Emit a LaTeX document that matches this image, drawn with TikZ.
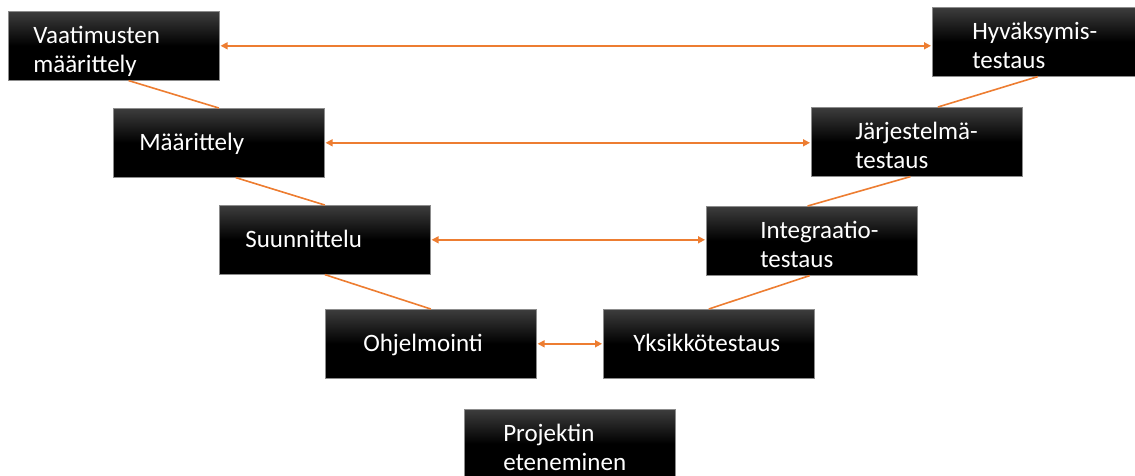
\documentclass[tikz,border=0pt]{standalone}
\usepackage{fontspec}
\setmainfont{Carlito}
\usetikzlibrary{
  arrows.meta,
  positioning,
  calc
}
\hyphenpenalty=10000
\exhyphenpenalty=10000
\definecolor{vmOrange}{HTML}{ED7D31}
\definecolor{vmEdge}{HTML}{8C8C8C}
\tikzset{
  stage/.style={
    draw=vmEdge, line width=0.6pt,
    top color=black!76, bottom color=black, middle color=black,
    minimum height=69pt, inner ysep=1pt, text=white, align=left,
    anchor=north west, font=\fontsize{25}{29}\selectfont,
    text height=29pt, text depth=34pt,
    inner xsep=#1, text width=211pt-2*#1
  },
  stage/.default=26pt,
  oneline/.style={text height=21pt, text depth=5pt},
  vline/.style={line width=1.6pt, vmOrange},
  link/.style={{Triangle[length=7pt,width=7pt]}-{Triangle[length=7pt,width=7pt]},
    line width=1.6pt, vmOrange, shorten <=1pt, shorten >=1pt}
}
\begin{document}
\begin{tikzpicture}[x=1pt, y=-1pt]
  \useasboundingbox (0,0) rectangle (1135,475);
  % left branch
  \node[stage=25pt] (vm) at (8,11) {Vaatimusten\\määrittely};
  \node[stage, oneline] (ma) at (113,108) {Määrittely};
  \node[stage, oneline] (su) at (219,205) {Suunnittelu};
  \node[stage=38pt, oneline] (oh) at (325,309) {Ohjelmointi};
  % right branch
  \node[stage=40pt] (hy) at (932,7) {Hyväksymis-\\testaus};
  \node[stage=44pt] (ja) at (811,107) {Järjestelmä-\\testaus};
  \node[stage=54pt] (in) at (706,206) {Integraatio-\\testaus};
  \node[stage=30pt, oneline] (yk) at (603,309) {Yksikkötestaus};
  \node[stage=39pt] (pr) at (464,409) {Projektin\\eteneminen};
  % V lines
  \foreach \a/\p/\b/\q in {vm/.57/ma/.5, ma/.58/su/.5, su/.5/oh/.5,
                           hy/.5/ja/.6, ja/.47/in/.48, in/.49/yk/.5}
    \draw[vline] ($(\a.south west)!\p!(\a.south east)$) -- ($(\b.north west)!\q!(\b.north east)$);
  % links between levels
  \foreach \a/\b in {vm/hy, ma/ja, su/in, oh/yk}
    \draw[link] (\a.east) -- (\a.east -| \b.west);
\end{tikzpicture}
\end{document}
